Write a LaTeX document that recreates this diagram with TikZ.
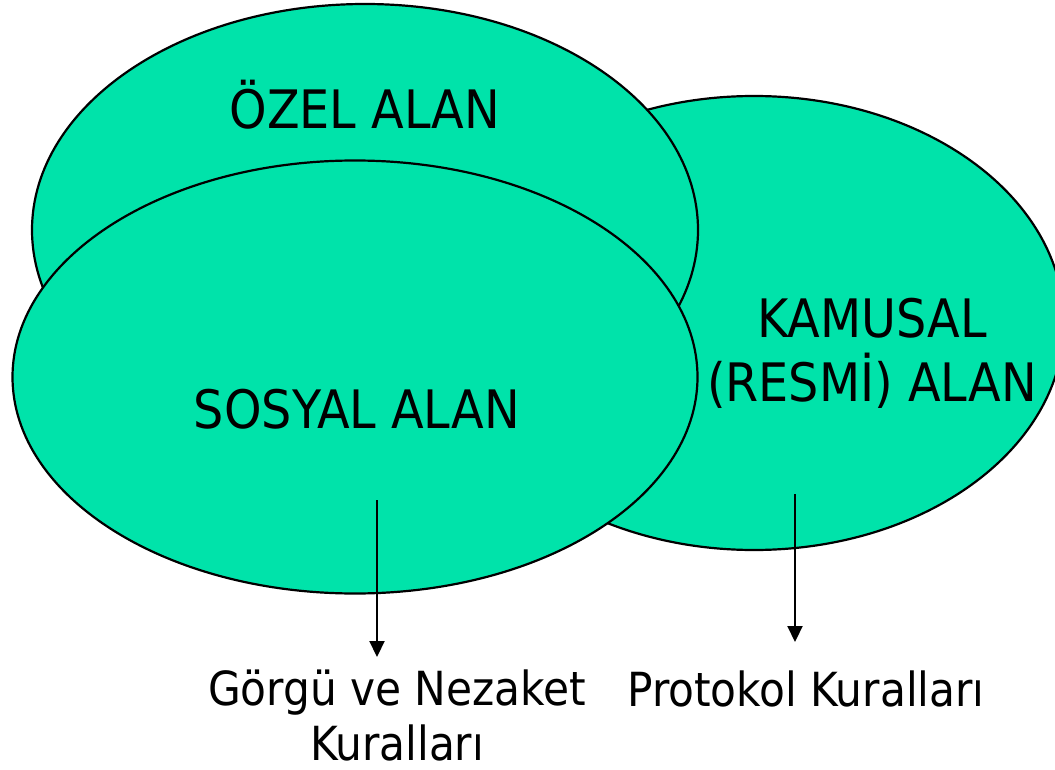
\documentclass[tikz,border=0pt]{standalone}
\usepackage{fontspec}
\setmainfont{DejaVu Sans Condensed}
\usetikzlibrary{shapes.geometric,arrows.meta}
\definecolor{alan}{RGB}{0,227,170}
\tikzstyle{area} = [ellipse,draw,fill=alan,line width=2.2pt,inner sep=0pt]
\tikzstyle{label} = [font=\fontsize{53}{64}\selectfont,align=center,inner sep=0pt]
\tikzstyle{note} = [font=\fontsize{47}{55}\selectfont,align=center,inner sep=0pt]
\tikzstyle{arrow} = [line width=2.2pt,-{Triangle[length=16pt,width=15pt]}]

\begin{document}
\begin{tikzpicture}[x=1pt,y=-1pt]
  \useasboundingbox (0,0) rectangle (1055,770);
  \clip (0,0) rectangle (1055,770);
  % the three areas
  \node[area,minimum width=620,minimum height=454] (kamusal) at (754,323) {};
  \node[area,minimum width=666,minimum height=452] (ozel) at (365,230) {};
  \node[area,minimum width=685,minimum height=433] (sosyal) at (355,377) {};
  % texts
  \node[label,anchor=base] (ozelt) at (365,129) {ÖZEL ALAN};
  \node[label,anchor=base] (sosyalt) at (357,428) {SOSYAL ALAN};
  \node[label,anchor=base] (kamusalt) at (872,401) {KAMUSAL\\(RESMİ) ALAN};
  \node[note,anchor=base] (gorgu) at (397,760) {Görgü ve Nezaket\\Kuralları};
  \node[note,anchor=base] (protokol) at (806,706) {Protokol Kuralları};
  % arrows
  \coordinate (s1) at (377,500);
  \coordinate (e1) at (377,657);
  \coordinate (s2) at (795,494);
  \coordinate (e2) at (795,642);
  \draw[arrow] (s1) -- (e1);
  \draw[arrow] (s2) -- (e2);
\end{tikzpicture}
\end{document}
